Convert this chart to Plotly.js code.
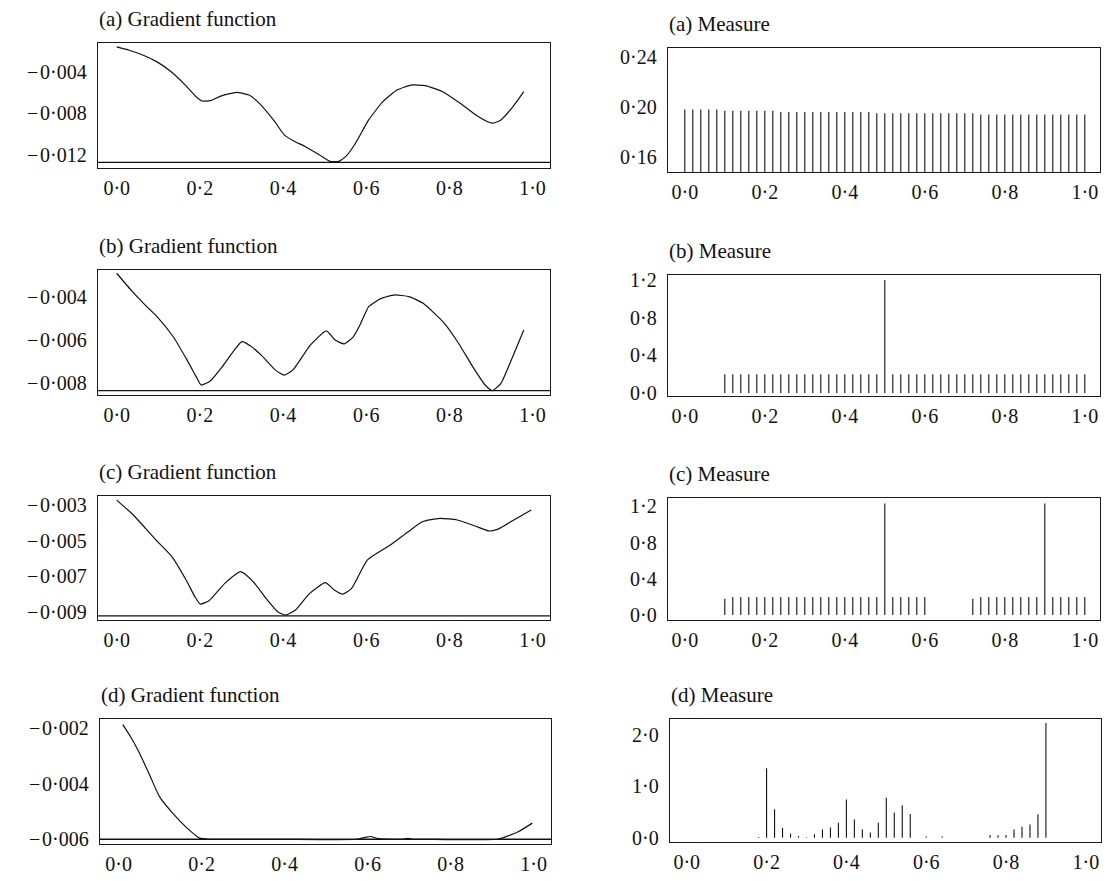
<!DOCTYPE html>
<html>
<head>
<meta charset="utf-8">
<script src="https://cdn.plot.ly/plotly-3.0.1.min.js"></script>
<style>html,body{margin:0;padding:0;background:#fff;}#chart{width:1112px;height:881px;}</style>
</head>
<body>
<div id="chart"></div>
<script>
// ---------- Gradient functions ----------
const gradA_x = [0,0.03,0.064,0.097,0.131,0.165,0.191,0.206,0.225,0.25,0.288,0.318,0.343,0.377,0.403,0.428,0.453,0.487,0.513,0.534,0.551,0.572,0.606,0.64,0.674,0.708,0.742,0.784,0.826,0.869,0.903,0.924,0.953,0.979];
const gradA_y = [-0.0016,-0.00192,-0.0024,-0.00304,-0.004,-0.00528,-0.0064,-0.00682,-0.00678,-0.00634,-0.00598,-0.00624,-0.00704,-0.00864,-0.01008,-0.01072,-0.0112,-0.012,-0.01264,-0.01264,-0.01216,-0.01104,-0.00864,-0.00688,-0.00576,-0.00528,-0.00534,-0.00592,-0.00704,-0.00832,-0.00896,-0.00864,-0.00736,-0.00592];
const gradA_min = -0.01274;

const gradB_x = [0,0.034,0.068,0.097,0.136,0.169,0.191,0.203,0.225,0.254,0.28,0.301,0.322,0.347,0.381,0.403,0.424,0.466,0.504,0.525,0.547,0.568,0.585,0.606,0.636,0.669,0.703,0.737,0.788,0.822,0.856,0.886,0.903,0.924,0.949,0.979];
const gradB_y = [-0.00292,-0.00369,-0.00438,-0.00492,-0.00585,-0.00692,-0.00769,-0.00808,-0.00789,-0.00723,-0.00654,-0.00608,-0.00628,-0.00669,-0.00738,-0.00762,-0.00738,-0.00623,-0.00558,-0.006,-0.00618,-0.00588,-0.00531,-0.00446,-0.00408,-0.00392,-0.004,-0.00431,-0.00523,-0.00615,-0.00723,-0.00808,-0.00834,-0.008,-0.00692,-0.00554];
const gradB_min = -0.00834;

const gradC_x = [0,0.04,0.091,0.133,0.167,0.188,0.201,0.222,0.26,0.298,0.328,0.362,0.387,0.406,0.43,0.464,0.502,0.523,0.544,0.565,0.603,0.658,0.701,0.735,0.777,0.819,0.862,0.896,0.921,0.955,0.997];
const gradC_y = [-0.00272,-0.00356,-0.00488,-0.00591,-0.00722,-0.00816,-0.00857,-0.00838,-0.00741,-0.00675,-0.00731,-0.00834,-0.009,-0.00919,-0.00891,-0.00797,-0.00737,-0.00778,-0.00801,-0.00769,-0.00609,-0.00525,-0.0045,-0.00394,-0.00375,-0.00384,-0.00418,-0.00446,-0.00431,-0.00384,-0.00328];
const gradC_min = -0.00924;

const gradD_x = [0.01,0.028,0.05,0.076,0.098,0.13,0.165,0.195,0.218,0.387,0.574,0.595,0.608,0.625,0.684,0.697,0.709,0.735,0.913,0.938,0.964,0.997];
const gradD_y = [-0.00188,-0.0023,-0.0029,-0.00374,-0.00446,-0.00506,-0.0056,-0.00596,-0.006,-0.006,-0.006,-0.00593,-0.0059,-0.00598,-0.006,-0.00597,-0.006,-0.006,-0.006,-0.00588,-0.00572,-0.00542];
const gradD_min = -0.0060;

// ---------- Measures (support points on a 0.02 grid) ----------
const measGrid = [0,0.02,0.04,0.06,0.08,0.1,0.12,0.14,0.16,0.18,0.2,0.22,0.24,0.26,0.28,0.3,0.32,0.34,0.36,0.38,0.4,0.42,0.44,0.46,0.48,0.5,0.52,0.54,0.56,0.58,0.6,0.62,0.64,0.66,0.68,0.7,0.72,0.74,0.76,0.78,0.8,0.82,0.84,0.86,0.88,0.9,0.92,0.94,0.96,0.98,1.0];
const measA = [0.198,0.198,0.198,0.198,0.198,0.197,0.197,0.197,0.197,0.197,0.197,0.197,0.196,0.196,0.196,0.196,0.196,0.196,0.196,0.196,0.196,0.196,0.196,0.196,0.195,0.195,0.195,0.195,0.195,0.195,0.195,0.195,0.195,0.195,0.195,0.195,0.195,0.194,0.194,0.194,0.194,0.194,0.194,0.194,0.194,0.194,0.194,0.194,0.194,0.194,0.194];
const measB = [0,0,0,0,0,0.2,0.2,0.2,0.2,0.2,0.2,0.2,0.2,0.2,0.2,0.2,0.2,0.2,0.2,0.2,0.2,0.2,0.2,0.2,0.2,1.2,0.2,0.2,0.2,0.2,0.2,0.2,0.2,0.2,0.2,0.2,0.2,0.2,0.2,0.2,0.2,0.2,0.2,0.2,0.2,0.2,0.2,0.2,0.2,0.2,0.2];
const measC = [0,0,0,0,0,0.18,0.2,0.2,0.2,0.2,0.2,0.2,0.2,0.2,0.2,0.2,0.2,0.2,0.2,0.2,0.2,0.2,0.2,0.2,0.2,1.23,0.2,0.2,0.2,0.2,0.2,0,0,0,0,0,0.18,0.2,0.2,0.2,0.2,0.2,0.2,0.2,0.2,1.23,0.2,0.2,0.2,0.2,0.2];
const measD = [0,0,0,0,0,0,0,0,0,0.01,1.35,0.55,0.19,0.08,0.03,0.01,0.065,0.16,0.195,0.29,0.74,0.35,0.16,0.1,0.29,0.775,0.49,0.63,0.46,0,0.02,0,0.02,0,0,0,0,0,0.05,0.045,0.05,0.16,0.21,0.255,0.455,2.23,0,0,0,0,0];

// ---------- Text ----------
const gradTitles = ['(a) Gradient function','(b) Gradient function','(c) Gradient function','(d) Gradient function'];
const measTitles = ['(a) Measure','(b) Measure','(c) Measure','(d) Measure'];
const xTickVals = [0,0.2,0.4,0.6,0.8,1.0];
const xTickText = ['0\u00b70','0\u00b72','0\u00b74','0\u00b76','0\u00b78','1\u00b70'];
const gradTickVals = [[-0.004,-0.008,-0.012],[-0.004,-0.006,-0.008],[-0.003,-0.005,-0.007,-0.009],[-0.002,-0.004,-0.006]];
const gradTickText = [['\u2212\u200a0\u00b7004','\u2212\u200a0\u00b7008','\u2212\u200a0\u00b7012'],['\u2212\u200a0\u00b7004','\u2212\u200a0\u00b7006','\u2212\u200a0\u00b7008'],['\u2212\u200a0\u00b7003','\u2212\u200a0\u00b7005','\u2212\u200a0\u00b7007','\u2212\u200a0\u00b7009'],['\u2212\u200a0\u00b7002','\u2212\u200a0\u00b7004','\u2212\u200a0\u00b7006']];
const measTickVals = [[0.16,0.20,0.24],[0,0.4,0.8,1.2],[0,0.4,0.8,1.2],[0,1,2]];
const measTickText = [['0\u00b716','0\u00b720','0\u00b724'],['0\u00b70','0\u00b74','0\u00b78','1\u00b72'],['0\u00b70','0\u00b74','0\u00b78','1\u00b72'],['0\u00b70','1\u00b70','2\u00b70']];

// ---------- Layout geometry (pixels) ----------
const W = 1112, H = 881;
const FONT = 'Liberation Serif, Times New Roman, serif';
const gradFrames = [[98,550,43,168],[98,550,270,395],[98,550,496,620],[100,551,719,844]];
const measFrames = [[668,1100,48,172],[668,1100,275,396],[668,1100,498,620],[670,1101,719,842]];
const gradYRange = [[-0.01328,-0.00122],[-0.00854,-0.00277],[-0.00947,-0.00249],[-0.00617,-0.00168]];
const measYRange = [[0.148,0.2472],[-0.032,1.253],[-0.055,1.292],[-0.085,2.306]];
const gradXRange = [-0.045,1.042];
const measXRange = [-0.042,1.038];

const grads = [[gradA_x,gradA_y,gradA_min],[gradB_x,gradB_y,gradB_min],[gradC_x,gradC_y,gradC_min],[gradD_x,gradD_y,gradD_min]];
const meass = [measA,measB,measC,measD];

const data = [];
const layout = {
  width: W, height: H, margin:{l:0,r:0,t:0,b:0},
  paper_bgcolor:'#fff', plot_bgcolor:'#fff', showlegend:false,
  font:{family:FONT,size:20,color:'#111'},
  annotations: []
};

function axisBase(){
  return {showline:true, mirror:true, linecolor:'#1a1a1a', linewidth:1.3,
    showgrid:false, zeroline:false, ticks:'outside', tickcolor:'rgba(0,0,0,0)',
    tickfont:{family:FONT,size:20,color:'#111'}, fixedrange:true};
}

function addPanel(idx, frame, xr, yr, yvals, ytext, title){
  const n = idx+1;
  const xa = 'xaxis'+(n===1?'':n), ya = 'yaxis'+(n===1?'':n);
  const xid = 'x'+(n===1?'':n), yid = 'y'+(n===1?'':n);
  const [l,r,t,b] = frame;
  layout[xa] = Object.assign(axisBase(), {domain:[l/W, r/W], range:xr, anchor:yid,
    tickvals:xTickVals, ticktext:xTickText, ticklen:2});
  layout[ya] = Object.assign(axisBase(), {domain:[1-b/H, 1-t/H], range:yr, anchor:xid,
    tickvals:yvals, ticktext:ytext, ticklen:6});
  layout.annotations.push({text:title, xref:'paper', yref:'paper', x:(l-1)/W, y:1-(t-24)/H,
    xanchor:'left', yanchor:'middle', showarrow:false, font:{family:FONT,size:21,color:'#111'}});
  return [xid, yid];
}

for (let i=0;i<4;i++){
  const [gx, gy, gmin] = grads[i];
  const [xid, yid] = addPanel(i*2, gradFrames[i], gradXRange, gradYRange[i], gradTickVals[i], gradTickText[i], gradTitles[i]);
  data.push({type:'scatter', mode:'lines', x:gx, y:gy, xaxis:xid, yaxis:yid,
    line:{color:'#111', width:1.2, shape:'spline', smoothing:0.5}, hoverinfo:'skip'});
  data.push({type:'scatter', mode:'lines', x:[gradXRange[0]-0.1, gradXRange[1]+0.1], y:[gmin,gmin], xaxis:xid, yaxis:yid,
    line:{color:'#111', width:1.3}, hoverinfo:'skip'});

  const m = meass[i];
  const [mx, my] = addPanel(i*2+1, measFrames[i], measXRange, measYRange[i], measTickVals[i], measTickText[i], measTitles[i]);
  const sx = [], sy = [];
  for (let k=0;k<measGrid.length;k++){
    if (m[k] > 0){ sx.push(measGrid[k], measGrid[k], null); sy.push(0, m[k], null); }
  }
  data.push({type:'scatter', mode:'lines', x:sx, y:sy, xaxis:mx, yaxis:my,
    line:{color:'#111', width:1.1}, hoverinfo:'skip'});
}

Plotly.newPlot('chart', data, layout, {staticPlot:true, displayModeBar:false});
</script>
</body>
</html>
